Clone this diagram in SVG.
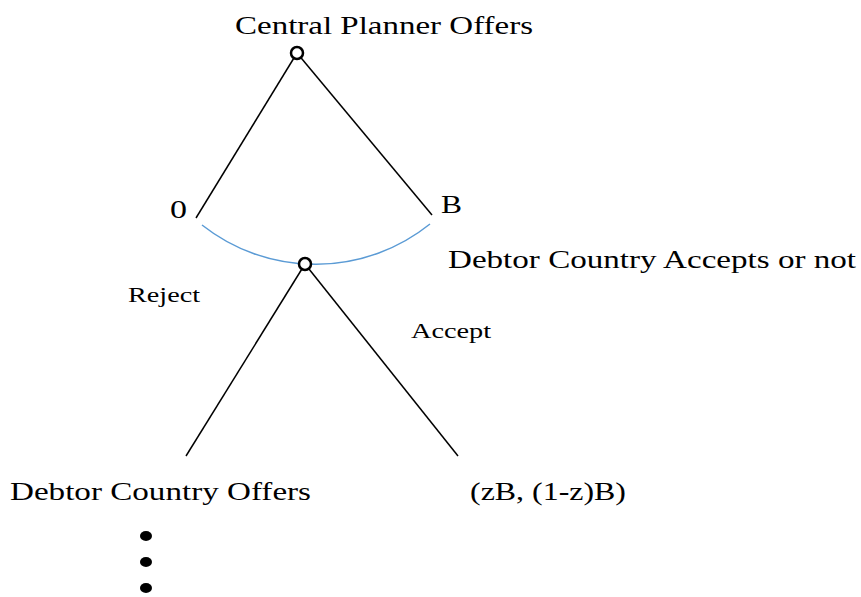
<svg xmlns="http://www.w3.org/2000/svg" width="861" height="597" viewBox="0 0 861 597">
<style>
text{font-family:"Liberation Serif","Times New Roman",serif;fill:#000}
.big{font-size:26px}
.small{font-size:21px}
.edge{stroke:#000;stroke-width:1.5;fill:none}
.node{fill:#fff;stroke:#000;stroke-width:2.5}
</style>
<rect width="861" height="597" fill="#fff"/>
<g id="connectors">
<line class="edge" x1="297" y1="53" x2="196" y2="218"/>
<line class="edge" x1="297" y1="53" x2="432" y2="215"/>
<line class="edge" x1="305" y1="264" x2="186" y2="456"/>
<line class="edge" x1="305" y1="264" x2="458" y2="456"/>
<path d="M202,225 A183,183 0 0,0 430,224" stroke="#5b9bd5" stroke-width="1.5" fill="none"/>
</g>
<g id="n1">
<circle class="node" cx="297" cy="53" r="6"/>
<text class="big" x="235" y="34" textLength="298" lengthAdjust="spacingAndGlyphs">Central Planner Offers</text>
</g>
<g id="n2">
<circle class="node" cx="305" cy="264" r="6"/>
<text class="big" x="448" y="268" textLength="408" lengthAdjust="spacingAndGlyphs">Debtor Country Accepts or not</text>
</g>
<g id="labels">
<text class="big" x="170" y="218" textLength="17" lengthAdjust="spacingAndGlyphs">0</text>
<text class="big" x="441" y="213" textLength="21" lengthAdjust="spacingAndGlyphs">B</text>
<text class="small" x="128" y="302" textLength="72" lengthAdjust="spacingAndGlyphs">Reject</text>
<text class="small" x="411" y="338" textLength="80" lengthAdjust="spacingAndGlyphs">Accept</text>
</g>
<g id="n3">
<text class="big" x="10" y="500" textLength="301" lengthAdjust="spacingAndGlyphs">Debtor Country Offers</text>
<ellipse cx="146" cy="536" rx="6" ry="5"/>
<ellipse cx="146" cy="562" rx="6" ry="5"/>
<ellipse cx="146" cy="588" rx="6" ry="5"/>
</g>
<g id="n4">
<text class="big" x="470" y="500" textLength="156" lengthAdjust="spacingAndGlyphs">(zB, (1-z)B)</text>
</g>
</svg>
